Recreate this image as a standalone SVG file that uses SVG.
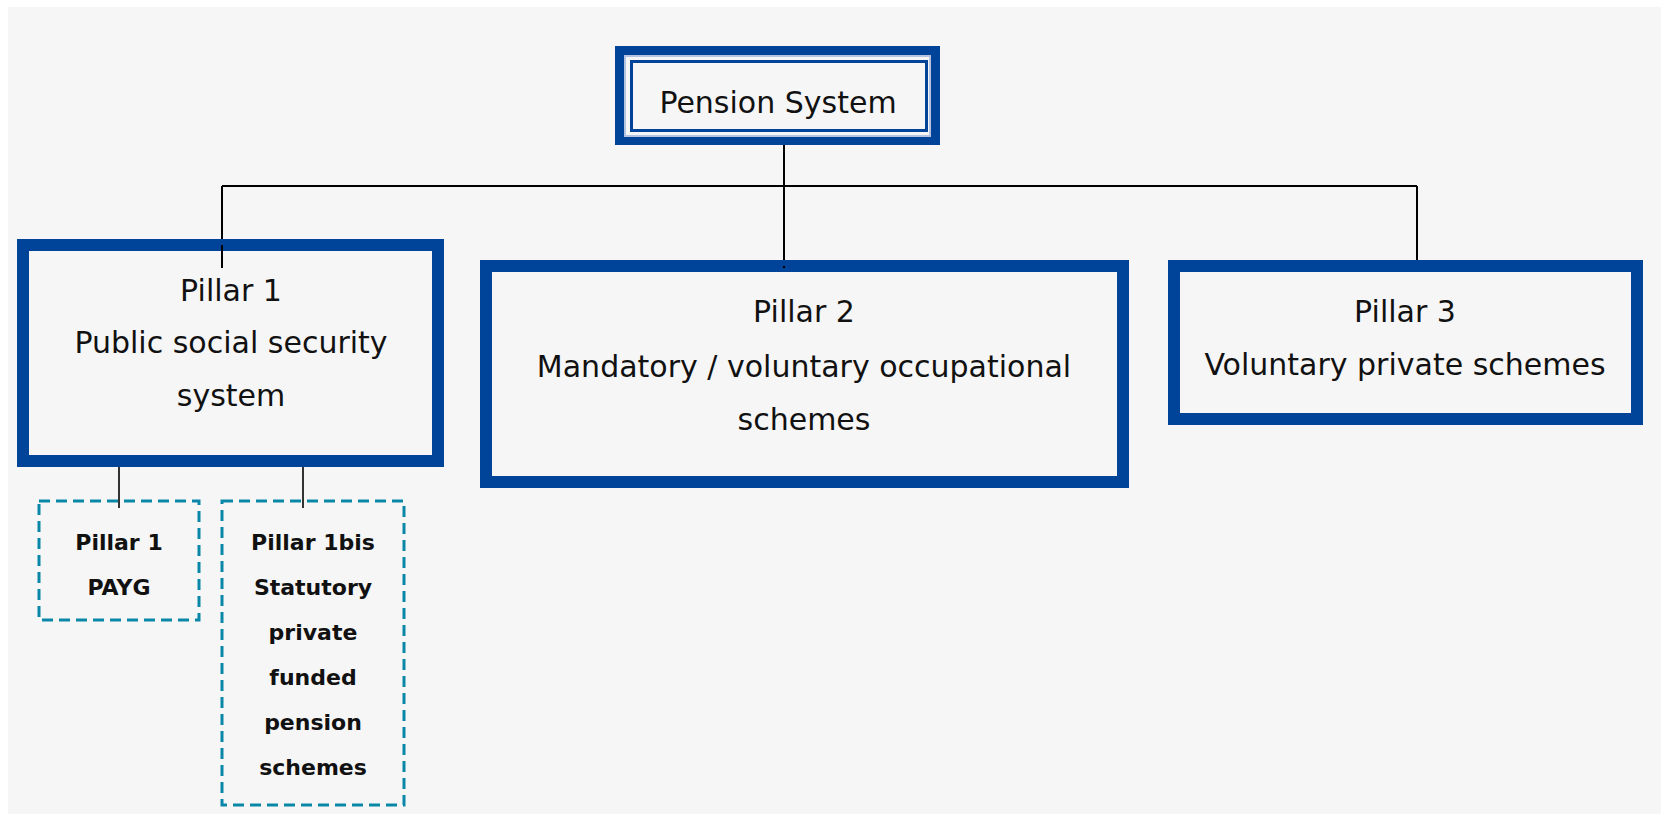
<svg xmlns="http://www.w3.org/2000/svg" width="1661" height="814" viewBox="0 0 1661 814">
<style>
.box{fill:#f6f6f6;stroke:#004499;stroke-width:12}
.dash{fill:none;stroke:#0a87a8;stroke-width:3;stroke-dasharray:11 6}
.t{font-family:"DejaVu Sans",sans-serif;font-size:30px;fill:#111;text-anchor:middle}
.s{font-family:"DejaVu Sans",sans-serif;font-size:22px;font-weight:bold;fill:#111;text-anchor:middle}
.c{fill:none;stroke:#000;stroke-width:2}
.c2{fill:none;stroke:#333;stroke-width:2}
</style>
<rect x="0" y="0" width="1661" height="814" fill="#ffffff"/>
<rect x="8" y="7" width="1653" height="807" fill="#f6f6f6"/>
<g id="connectors">
<path class="c" d="M784 145 V268"/>
<path class="c" d="M222 186 H1417"/>
<path class="c" d="M222 186 V268"/>
<path class="c" d="M1417 186 V268"/>
<path class="c2" d="M119 467 V508"/>
<path class="c2" d="M303 467 V508"/>
</g>
<g id="pension-system">
<rect x="619.5" y="50.5" width="316" height="90" fill="#f6f6f6" stroke="#004499" stroke-width="9"/>
<rect x="625" y="56" width="305" height="80" fill="none" stroke="#b4c3e0" stroke-width="2"/>
<rect x="631.5" y="61.5" width="295" height="69" fill="none" stroke="#004499" stroke-width="3"/>
<text class="t" x="778" y="113">Pension System</text>
</g>
<g id="pillar1">
<rect class="box" x="23" y="245" width="415" height="216"/>
<path class="c" d="M222 245 V268"/>
<text class="t" x="231" y="301">Pillar 1</text>
<text class="t" x="231" y="353">Public social security</text>
<text class="t" x="231" y="406">system</text>
</g>
<g id="pillar2">
<rect class="box" x="486" y="266" width="637" height="216"/>
<path class="c" d="M784 266 V268"/>
<text class="t" x="804" y="322">Pillar 2</text>
<text class="t" x="804" y="377">Mandatory / voluntary occupational</text>
<text class="t" x="804" y="430">schemes</text>
</g>
<g id="pillar3">
<rect class="box" x="1174" y="266" width="463" height="153"/>
<text class="t" x="1405" y="322">Pillar 3</text>
<text class="t" x="1405" y="375">Voluntary private schemes</text>
</g>
<g id="pillar1-payg">
<rect class="dash" x="39" y="501" width="160" height="119"/>
<text class="s" x="119" y="550">Pillar 1</text>
<text class="s" x="119" y="595">PAYG</text>
</g>
<g id="pillar1bis">
<rect class="dash" x="222" y="501" width="182" height="304"/>
<text class="s" x="313" y="550">Pillar 1bis</text>
<text class="s" x="313" y="595">Statutory</text>
<text class="s" x="313" y="640">private</text>
<text class="s" x="313" y="685">funded</text>
<text class="s" x="313" y="730">pension</text>
<text class="s" x="313" y="775">schemes</text>
</g>
</svg>
